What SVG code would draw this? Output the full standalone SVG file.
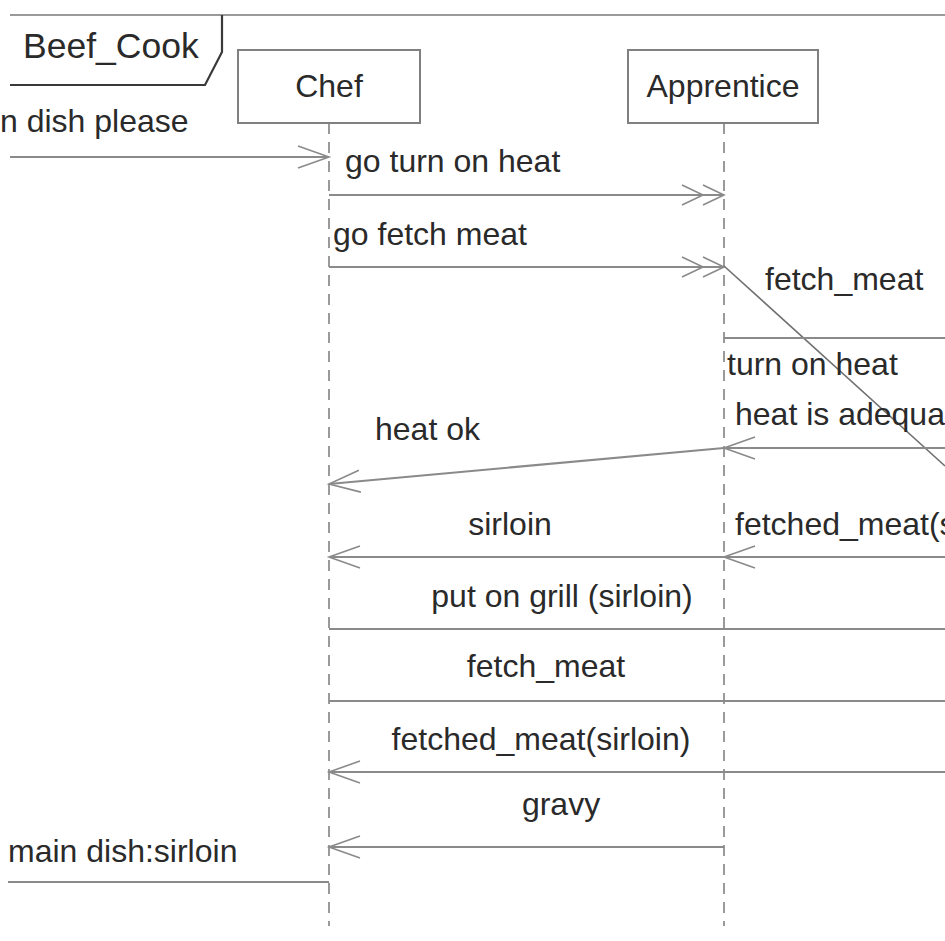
<svg xmlns="http://www.w3.org/2000/svg" width="945" height="941" viewBox="0 0 945 941">
  <defs>
    <!-- open arrowhead for synchronous messages -->
    <marker id="open" markerUnits="userSpaceOnUse" markerWidth="40" markerHeight="30" viewBox="-34 -15 36 30" refX="0" refY="0" orient="auto">
      <path d="M-31,-11 L0,0 L-31,11" fill="none" stroke="#8a8a8a" stroke-width="1.6"/>
    </marker>
    <!-- double chevron for asynchronous messages -->
    <marker id="async" markerUnits="userSpaceOnUse" markerWidth="50" markerHeight="30" viewBox="-46 -15 48 30" refX="0" refY="0" orient="auto">
      <path d="M-42,-10 L-21,0 L-42,10 M-21,-10 L0,0 L-21,10" fill="none" stroke="#8a8a8a" stroke-width="1.6"/>
    </marker>
  </defs>
  <style>
    text { font-family: "Liberation Sans", Arial, sans-serif; font-size: 32px; fill: #2a2a2a; }
    .mid { text-anchor: middle; }
    .box { fill: #ffffff; stroke: #808080; stroke-width: 2; }
    .life { stroke: #9a9a9a; stroke-width: 2; stroke-dasharray: 11 8; fill: none; }
    .msg { stroke: #8a8a8a; stroke-width: 2.2; fill: none; }
    .sync { marker-end: url(#open); }
    .asyn { marker-end: url(#async); }
  </style>
  <rect width="945" height="941" fill="#ffffff"/>

  <!-- interaction frame and its name tab -->
  <g id="frame">
    <line x1="10" y1="15" x2="945" y2="15" stroke="#9a9a9a" stroke-width="2"/>
    <path d="M10,85 L205,85 L222,52 L222,15" fill="none" stroke="#3a3a3a" stroke-width="2.2"/>
    <text x="23" y="58" style="font-size:35.5px">Beef_Cook</text>
  </g>

  <!-- lifelines -->
  <g id="chef">
    <line class="life" x1="329" y1="123" x2="329" y2="926"/>
    <rect class="box" x="238" y="50" width="182" height="73"/>
    <text class="mid" x="329" y="97">Chef</text>
  </g>
  <g id="apprentice">
    <line class="life" x1="724" y1="123" x2="724" y2="926"/>
    <rect class="box" x="628" y="50" width="190" height="73"/>
    <text class="mid" x="723" y="97">Apprentice</text>
  </g>

  <!-- messages -->
  <g id="connectors">
    <line class="msg sync" x1="10" y1="157" x2="329" y2="157"/>
    <line class="msg asyn" x1="329" y1="195" x2="724" y2="195"/>
    <line class="msg asyn" x1="329" y1="267" x2="724" y2="267"/>
    <line stroke="#707070" stroke-width="1.6" x1="724" y1="266" x2="945" y2="466"/>
    <line class="msg" x1="724" y1="338" x2="945" y2="338"/>
    <line class="msg sync" x1="945" y1="448" x2="724" y2="448"/>
    <line class="msg sync" x1="724" y1="448" x2="329" y2="484"/>
    <line class="msg sync" x1="945" y1="557" x2="724" y2="557"/>
    <line class="msg sync" x1="724" y1="557" x2="329" y2="557"/>
    <line class="msg" x1="329" y1="629" x2="945" y2="629"/>
    <line class="msg" x1="329" y1="701" x2="945" y2="701"/>
    <line class="msg sync" x1="945" y1="772" x2="329" y2="772"/>
    <line class="msg sync" x1="724" y1="847" x2="329" y2="847"/>
    <line class="msg" x1="8" y1="882" x2="329" y2="882"/>
  </g>

  <!-- message labels -->
  <g id="labels">
    <text x="0" y="132">n dish please</text>
    <text x="345" y="172">go turn on heat</text>
    <text x="333" y="245">go fetch meat</text>
    <text x="765" y="290">fetch_meat</text>
    <text x="727" y="375">turn on heat</text>
    <text x="735" y="425">heat is adequa</text>
    <text x="375" y="440">heat ok</text>
    <text class="mid" x="510" y="535">sirloin</text>
    <text x="735" y="535">fetched_meat(s</text>
    <text class="mid" x="562" y="607">put on grill (sirloin)</text>
    <text class="mid" x="546" y="677">fetch_meat</text>
    <text class="mid" x="541" y="750">fetched_meat(sirloin)</text>
    <text class="mid" x="561" y="815">gravy</text>
    <text x="8" y="862">main dish:sirloin</text>
  </g>
</svg>
